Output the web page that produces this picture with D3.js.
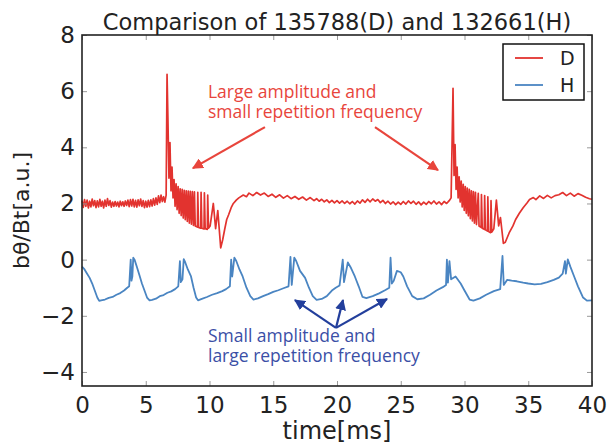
<!DOCTYPE html>
<html>
<head>
    <title>Comparison of 135788(D) and 132661(H)</title>
    <script src="https://cdnjs.cloudflare.com/ajax/libs/d3/7.8.5/d3.min.js"></script>
    <style>
        html, body {
            margin: 0;
            padding: 0;
            background: white;
        }
        svg text {
            font-family: 'DejaVu Sans', sans-serif;
        }
        .note {
            font-family: 'Open Sans', sans-serif !important;
            font-size: 17.5px;
        }
    </style>
</head>
<body>
    <div id="chart"></div>
    <script>
        // time [ms] / b_theta/Bt [a.u.]
        const dPoints = [
            [0.0, 2.10], [0.1, 1.86], [0.2, 2.14], [0.3, 1.90], [0.4, 2.12], [0.5, 1.84], [0.6, 2.08], [0.7, 1.88],
            [0.8, 2.16], [0.9, 1.92], [1.0, 2.10], [1.1, 1.85], [1.2, 2.09], [1.3, 1.88], [1.4, 2.15], [1.5, 1.90],
            [1.6, 2.08], [1.7, 1.84], [1.8, 2.12], [1.9, 1.90], [2.0, 2.17], [2.1, 1.93], [2.2, 2.10], [2.3, 1.87],
            [2.4, 2.05], [2.5, 1.90], [2.6, 2.07], [2.7, 1.91], [2.8, 2.05], [2.9, 1.88], [3.0, 2.08], [3.1, 1.92],
            [3.2, 2.06], [3.3, 1.90], [3.4, 2.09], [3.5, 1.93], [3.6, 2.12], [3.7, 1.89], [3.8, 2.14], [3.9, 1.91],
            [4.0, 2.15], [4.1, 1.88], [4.2, 2.11], [4.3, 1.87], [4.4, 2.13], [4.5, 1.92], [4.6, 2.16], [4.7, 1.90],
            [4.8, 2.10], [4.9, 1.85], [5.0, 2.08], [5.1, 1.87], [5.2, 2.11], [5.3, 1.89], [5.4, 2.13], [5.5, 1.91],
            [5.6, 2.17], [5.7, 1.94], [5.8, 2.20], [5.9, 1.97], [6.0, 2.27], [6.1, 2.03], [6.2, 2.30], [6.3, 2.07],
            [6.4, 2.24], [6.5, 2.05], [6.6, 2.30],
            // first big ELM
            [6.67, 6.6], [6.74, 5.0], [6.82, 2.9], [6.90, 4.17], [6.98, 2.45], [7.06, 3.3], [7.14, 2.2], [7.22, 2.85],
            [7.30, 1.9], [7.38, 2.7], [7.46, 1.78], [7.54, 2.6], [7.62, 1.65], [7.70, 2.52], [7.78, 1.57], [7.86, 2.5],
            [7.94, 1.48], [8.02, 2.47], [8.10, 1.42], [8.18, 2.45], [8.26, 1.36], [8.34, 2.44], [8.42, 1.30], [8.50, 2.43],
            [8.58, 1.26], [8.66, 2.42], [8.74, 1.22],
            [8.82, 2.41], [8.88, 1.2], [9.05, 1.16], [9.08, 2.4], [9.14, 1.15], [9.31, 1.12], [9.34, 2.4], [9.40, 1.12],
            [9.57, 1.09], [9.60, 2.38], [9.66, 1.1], [9.83, 1.08], [9.86, 2.3], [9.92, 1.12], [10.05, 1.2],
            [10.3, 2.0], [10.48, 1.1], [10.65, 1.75], [10.88, 0.42], [11.03, 0.7], [11.2, 1.1], [11.35, 1.43],
            [11.5, 1.6], [11.7, 1.85], [11.87, 2.0], [12.1, 2.12], [12.3, 2.2], [12.65, 2.3], [12.9, 2.24],
            [13.1, 2.37], [13.4, 2.28], [13.7, 2.39], [14.0, 2.3], [14.3, 2.37], [14.6, 2.25], [14.9, 2.33],
            [15.2, 2.22], [15.5, 2.31], [15.8, 2.19], [16.1, 2.28], [16.4, 2.17], [16.7, 2.25], [17.0, 2.15],
            [17.3, 2.23], [17.6, 2.12], [17.9, 2.21], [18.2, 2.1], [18.4, 2.17], [18.6, 2.08], [18.8, 2.15],
            [19.0, 2.06], [19.2, 2.13], [19.4, 2.03], [19.6, 2.11], [19.8, 2.02], [20.0, 2.1], [20.2, 2.01],
            [20.4, 2.09], [20.6, 2.0], [20.8, 2.08], [21.0, 1.99], [21.2, 2.07], [21.4, 1.98], [21.6, 2.09],
            [21.8, 2.01], [22.0, 2.13], [22.2, 2.04], [22.4, 2.15], [22.6, 2.06], [22.8, 2.16], [23.0, 2.08],
            [23.2, 2.14], [23.4, 2.03], [23.6, 2.11], [23.8, 2.0], [24.0, 2.08], [24.2, 1.98], [24.4, 2.06],
            [24.6, 1.96], [24.8, 2.05], [25.0, 1.97], [25.2, 2.07], [25.4, 1.98], [25.6, 2.09], [25.8, 2.0],
            [26.0, 2.08], [26.2, 1.97], [26.4, 2.06], [26.6, 1.95], [26.8, 2.05], [27.0, 1.97], [27.2, 2.07],
            [27.4, 1.99], [27.6, 2.09], [27.8, 1.98], [28.0, 2.06], [28.2, 1.96], [28.4, 2.07], [28.6, 2.0],
            [28.8, 2.1], [28.95, 2.2],
            // second big ELM
            [29.1, 6.1], [29.18, 3.0], [29.26, 4.1], [29.34, 2.5], [29.42, 3.3], [29.50, 2.2], [29.58, 2.95],
            [29.66, 2.05], [29.74, 2.8], [29.82, 1.88], [29.90, 2.68], [29.98, 1.75], [30.06, 2.6], [30.14, 1.65],
            [30.22, 2.55], [30.30, 1.56], [30.38, 2.5], [30.46, 1.46], [30.54, 2.45], [30.62, 1.38], [30.70, 2.42],
            [30.78, 1.3], [30.86, 2.4], [30.94, 1.25],
            [31.08, 2.36], [31.14, 1.2], [31.30, 1.15], [31.33, 2.32], [31.39, 1.12], [31.55, 1.08], [31.58, 2.28],
            [31.64, 1.06], [31.80, 1.02], [31.83, 2.24], [31.89, 1.0], [32.05, 0.96], [32.08, 2.1], [32.14, 0.98],
            [32.3, 1.1], [32.5, 2.12], [32.68, 1.2], [32.82, 1.5], [33.05, 0.58], [33.2, 0.62], [33.5, 0.95],
            [33.8, 1.2], [34.0, 1.42], [34.3, 1.65], [34.6, 1.85], [34.9, 2.02], [35.1, 2.14], [35.4, 2.21],
            [35.6, 2.14], [35.9, 2.27], [36.2, 2.18], [36.5, 2.29], [36.8, 2.2], [37.1, 2.28], [37.4, 2.31],
            [37.7, 2.39], [38.0, 2.28], [38.3, 2.37], [38.6, 2.26], [38.9, 2.35], [39.2, 2.29], [39.5, 2.22],
            [39.8, 2.17], [40.0, 2.15]
        ];

        const hPoints = [
            [0.0, -0.25], [0.2, -0.35], [0.4, -0.5], [0.6, -0.65], [0.8, -0.85], [1.0, -1.1], [1.2, -1.35],
            [1.35, -1.47], [1.5, -1.45], [1.8, -1.42], [2.1, -1.36], [2.4, -1.33], [2.7, -1.25], [3.0, -1.19],
            [3.3, -1.1], [3.55, -1.0], [3.7, -0.95], [3.82, 0.0], [3.88, -0.75], [3.95, -0.6], [4.02, 0.07],
            [4.12, 0.0], [4.3, -0.25], [4.5, -0.55], [4.7, -0.85], [4.9, -1.1], [5.1, -1.35], [5.3, -1.45],
            [5.5, -1.43], [5.8, -1.39], [6.1, -1.3], [6.4, -1.26], [6.7, -1.18], [7.0, -1.13], [7.3, -1.05],
            [7.55, -0.95], [7.68, -0.05], [7.75, -0.8], [7.88, -0.7], [7.98, 0.02], [8.1, -0.1], [8.3, -0.35],
            [8.55, -0.6], [8.75, -1.0], [8.95, -1.35], [9.1, -1.45], [9.4, -1.4], [9.8, -1.33], [10.2, -1.25],
            [10.6, -1.19], [11.0, -1.12], [11.3, -1.05], [11.6, -0.95], [11.7, 0.0], [11.78, -0.6], [11.95, 0.07],
            [12.1, -0.05], [12.35, -0.35], [12.6, -0.6], [12.9, -1.0], [13.2, -1.3], [13.45, -1.42], [13.8, -1.38],
            [14.2, -1.3], [14.6, -1.23], [15.0, -1.15], [15.4, -1.09], [15.8, -1.02], [16.2, -0.95], [16.35, 0.1],
            [16.45, -0.9], [16.65, 0.07], [16.8, -0.05], [17.1, -0.4], [17.5, -0.65], [17.8, -1.0], [18.1, -1.3],
            [18.4, -1.43], [18.8, -1.4], [19.2, -1.3], [19.6, -1.1], [19.9, -1.0], [20.2, -0.92], [20.45, 0.0],
            [20.55, -0.8], [20.85, -0.1], [21.1, -0.3], [21.4, -0.6], [21.7, -0.95], [22.0, -1.33], [22.3, -1.37],
            [22.8, -1.3], [23.3, -1.2], [23.8, -1.08], [24.1, -1.0], [24.2, 0.07], [24.3, -0.85], [24.45, -0.75],
            [24.7, -0.4], [25.0, -0.45], [25.2, -0.6], [25.5, -0.95], [25.9, -1.3], [26.3, -1.41], [26.8, -1.38],
            [27.3, -1.25], [27.8, -1.1], [28.3, -0.98], [28.55, -0.9], [28.62, 0.0], [28.7, -0.82], [28.82, -0.05],
            [28.95, -0.7], [29.3, -0.6], [29.7, -0.85], [30.0, -1.1], [30.4, -1.42], [30.7, -1.46], [31.2, -1.38],
            [31.7, -1.25], [32.3, -1.12], [32.8, -1.05], [32.98, 0.13], [33.08, -0.9], [33.35, -0.72], [33.7, -0.75],
            [34.1, -0.77], [34.6, -0.82], [35.0, -0.85], [35.5, -0.88], [36.0, -0.86], [36.5, -0.8], [37.0, -0.72],
            [37.4, -0.64], [37.7, -0.5], [37.88, -0.05], [37.95, -0.5], [38.1, 0.01], [38.3, -0.25], [38.6, -0.6],
            [38.9, -0.95], [39.3, -1.35], [39.6, -1.46], [40.0, -1.45]
        ];

        const xTicks = [0, 5, 10, 15, 20, 25, 30, 35, 40];
        const yTicks = [-4, -2, 0, 2, 4, 6, 8];
        const seriesNames = ["D", "H"];
        const seriesColors = ["#e2332f", "#4a85c2"];

        const width = 608, height = 446;
        const margin = { top: 35, right: 16, bottom: 60, left: 82 };

        const x = d3.scaleLinear([0, 40], [margin.left, width - margin.right]);
        const y = d3.scaleLinear([-4.5, 8], [height - margin.bottom, margin.top]);

        const svg = d3.select("#chart")
            .append("svg")
            .attr("width", width)
            .attr("height", height);

        const defs = svg.append("defs");
        [["arrowRed", "#e8453c"], ["arrowBlue", "#233f9c"]].forEach(([id, c]) => {
            defs.append("marker")
                .attr("id", id)
                .attr("viewBox", "0 0 10 10")
                .attr("refX", 9)
                .attr("refY", 5)
                .attr("markerWidth", 5)
                .attr("markerHeight", 5)
                .attr("markerUnits", "strokeWidth")
                .attr("orient", "auto")
                .append("path")
                .attr("d", "M0,0 L10,5 L0,10 z")
                .attr("fill", c);
        });

        const line = d3.line()
            .x(d => x(d[0]))
            .y(d => y(d[1]));

        svg.append("path")
            .datum(hPoints)
            .attr("fill", "none")
            .attr("stroke", seriesColors[1])
            .attr("stroke-width", 1.8)
            .attr("stroke-linejoin", "round")
            .attr("d", line);

        svg.append("path")
            .datum(dPoints)
            .attr("fill", "none")
            .attr("stroke", seriesColors[0])
            .attr("stroke-width", 1.7)
            .attr("stroke-linejoin", "round")
            .attr("d", line);

        // axes with inward ticks on all four sides
        const plotW = width - margin.left - margin.right;
        const plotH = height - margin.top - margin.bottom;

        const xAxis = svg.append("g")
            .attr("transform", `translate(0,${height - margin.bottom})`)
            .call(d3.axisBottom(x).tickValues(xTicks).tickSize(-5).tickPadding(10));
        svg.append("g")
            .attr("transform", `translate(0,${margin.top})`)
            .call(d3.axisTop(x).tickValues(xTicks).tickSize(-5).tickFormat(""));
        svg.append("g")
            .attr("transform", `translate(${margin.left},0)`)
            .call(d3.axisLeft(y).tickValues(yTicks).tickSize(-5).tickPadding(7)
                .tickFormat(d => d < 0 ? "\u2212" + Math.abs(d) : d));
        svg.append("g")
            .attr("transform", `translate(${width - margin.right},0)`)
            .call(d3.axisRight(y).tickValues(yTicks).tickSize(-5).tickFormat(""));

        svg.selectAll(".domain").remove();
        svg.selectAll(".tick line").attr("stroke", "#999").attr("stroke-width", 1);
        svg.selectAll(".tick text")
            .attr("fill", "#222")
            .style("font-size", "23px")
            .style("font-family", "'DejaVu Sans', sans-serif");
        xAxis.selectAll(".tick text").attr("dy", "0.72em");

        svg.append("rect")
            .attr("x", margin.left)
            .attr("y", margin.top)
            .attr("width", plotW)
            .attr("height", plotH)
            .attr("fill", "none")
            .attr("stroke", "#222")
            .attr("stroke-width", 1.6);

        // titles
        svg.append("text")
            .attr("x", margin.left + plotW / 2)
            .attr("y", 30)
            .attr("text-anchor", "middle")
            .style("font-size", "22.5px")
            .attr("fill", "#222")
            .text("Comparison of 135788(D) and 132661(H)");

        svg.append("text")
            .attr("x", margin.left + plotW / 2)
            .attr("y", 439)
            .attr("text-anchor", "middle")
            .style("font-size", "24px")
            .attr("fill", "#222")
            .text("time[ms]");

        svg.append("text")
            .attr("transform", `translate(29,${margin.top + plotH / 2}) rotate(-90)`)
            .attr("text-anchor", "middle")
            .style("font-size", "22px")
            .attr("fill", "#222")
            .text("b\u03B8/Bt[a.u.]");

        // legend
        const legend = svg.append("g").attr("transform", "translate(503,44)");
        legend.append("rect")
            .attr("width", 81)
            .attr("height", 56)
            .attr("fill", "white")
            .attr("stroke", "#111")
            .attr("stroke-width", 1.5);
        seriesNames.forEach((name, i) => {
            legend.append("line")
                .attr("x1", 12).attr("x2", 40)
                .attr("y1", 14 + i * 27).attr("y2", 14 + i * 27)
                .attr("stroke", seriesColors[i])
                .attr("stroke-width", 1.8);
            legend.append("text")
                .attr("x", 57)
                .attr("y", 14 + i * 27)
                .attr("dy", "0.36em")
                .style("font-size", "19px")
                .attr("fill", "#222")
                .text(name);
        });

        // annotations (in data units)
        const redNote = { t: 9.88, lines: [[5.76, "Large amplitude and"], [5.04, "small repetition frequency"]] };
        const redArrows = [[[14.35, 4.72], [8.7, 3.26]], [[22.98, 4.72], [27.92, 3.19]]];
        const blueNote = { t: 9.88, lines: [[-2.93, "Small amplitude and"], [-3.65, "large repetition frequency"]] };
        const blueArrows = [[[19.92, -2.43], [16.7, -1.44]], [[19.92, -2.43], [20.47, -1.44]], [[19.92, -2.43], [23.92, -1.40]]];

        function drawNote(note, color) {
            const t = svg.append("text")
                .attr("class", "note")
                .attr("fill", color);
            note.lines.forEach(([v, txt]) => {
                t.append("tspan")
                    .attr("x", x(note.t))
                    .attr("y", y(v))
                    .text(txt);
            });
        }
        function drawArrows(arrows, color, marker) {
            arrows.forEach(([a, b]) => {
                svg.append("line")
                    .attr("x1", x(a[0])).attr("y1", y(a[1]))
                    .attr("x2", x(b[0])).attr("y2", y(b[1]))
                    .attr("stroke", color)
                    .attr("stroke-width", 2.2)
                    .attr("marker-end", `url(#${marker})`);
            });
        }
        drawNote(redNote, "#e8453c");
        drawArrows(redArrows, "#e8453c", "arrowRed");
        drawNote(blueNote, "#3b4fa6");
        drawArrows(blueArrows, "#233f9c", "arrowBlue");
    </script>
</body>
</html>
